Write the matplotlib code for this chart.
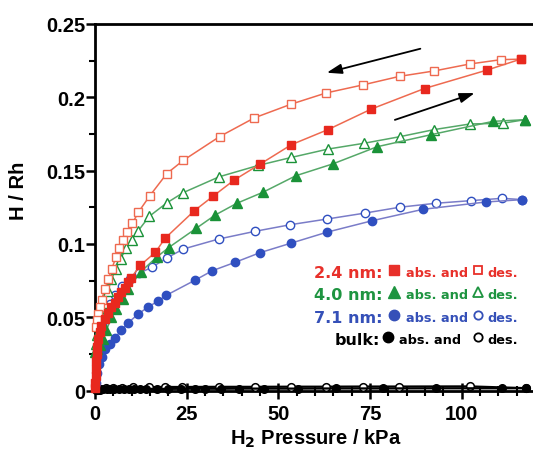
import matplotlib
matplotlib.use("Agg")
import matplotlib.pyplot as plt
from matplotlib.ticker import FixedLocator, FixedFormatter, MultipleLocator

# ---------------- data ----------------
p24_abs = [0.05, 0.1, 0.15, 0.25, 0.35, 0.45, 0.6, 0.8, 1.3, 1.7, 2.6, 3.6, 4.5, 5.4, 6.3, 7.2,
           8.1, 9.0, 9.9, 12.4, 16.5, 19.1, 27.1, 32.2, 38.0, 45.1, 53.6, 63.6, 75.4, 89.9, 107.0, 116.1]
h24_abs = [0.002, 0.005, 0.010, 0.015, 0.020, 0.025, 0.030, 0.035, 0.040, 0.044, 0.049, 0.053, 0.0568,
           0.060, 0.0636, 0.067, 0.070, 0.0738, 0.077, 0.0855, 0.0943, 0.1038, 0.1226, 0.1325, 0.1436,
           0.1545, 0.1677, 0.178, 0.192, 0.206, 0.2186, 0.226]
p24_des = [116.1, 110.8, 102.2, 92.6, 83.1, 73.0, 63.1, 53.6, 43.5, 34.0, 24.1, 19.6, 15.0, 11.8,
           10.2, 8.8, 7.7, 6.6, 5.7, 4.6, 3.6, 2.7, 1.8, 1.3, 0.9, 0.6, 0.4]
h24_des = [0.226, 0.2257, 0.2227, 0.218, 0.2143, 0.2084, 0.203, 0.1954, 0.186, 0.1732, 0.157, 0.148,
           0.133, 0.1215, 0.114, 0.108, 0.103, 0.097, 0.091, 0.083, 0.076, 0.069, 0.062, 0.057, 0.052,
           0.048, 0.043]

p40_abs = [0.1, 0.6, 1.3, 2.2, 3.1, 4.5, 5.8, 7.6, 9.0, 12.5, 16.8, 20.1, 27.6, 32.8, 38.7, 45.8,
           54.8, 64.8, 77.0, 91.7, 108.6, 117.2]
h40_abs = [0.026, 0.028, 0.031, 0.035, 0.041, 0.050, 0.0556, 0.0624, 0.069, 0.081, 0.0909, 0.0975,
           0.1106, 0.1197, 0.1277, 0.1352, 0.1465, 0.1545, 0.1663, 0.1745, 0.1836, 0.1847]
p40_des = [117.2, 111.3, 102.3, 92.6, 83.1, 73.3, 63.6, 53.6, 44.5, 33.9, 24.1, 19.6, 14.8, 11.8,
           10.0, 8.5, 7.0, 5.7, 4.5, 3.5, 2.5, 1.7, 1.1, 0.6, 0.3]
h40_des = [0.1847, 0.1823, 0.1818, 0.178, 0.1731, 0.1686, 0.1647, 0.159, 0.1535, 0.1458, 0.135,
           0.128, 0.1188, 0.109, 0.103, 0.097, 0.090, 0.083, 0.076, 0.068, 0.060, 0.052, 0.045,
           0.038, 0.032]

p71_abs = [0.2, 0.5, 1.0, 1.8, 2.8, 4.0, 5.4, 7.2, 9.0, 11.7, 14.5, 17.2, 19.5, 27.4, 32.0, 38.3,
           45.0, 53.6, 63.3, 75.6, 89.5, 106.7, 116.6]
h71_abs = [0.005, 0.012, 0.018, 0.023, 0.028, 0.032, 0.036, 0.041, 0.046, 0.052, 0.057, 0.061,
           0.065, 0.0754, 0.0817, 0.0875, 0.094, 0.1006, 0.108, 0.1158, 0.1236, 0.1286, 0.1302]
p71_des = [116.6, 111.1, 102.5, 92.9, 83.1, 73.6, 63.4, 53.3, 43.7, 33.7, 24.1, 19.6, 15.5, 12.0,
           9.5, 7.5, 5.5, 4.0, 2.8, 1.8, 1.0, 0.5]
h71_des = [0.1302, 0.1311, 0.1295, 0.1277, 0.125, 0.121, 0.117, 0.1131, 0.1086, 0.1033, 0.0965,
           0.0904, 0.084, 0.080, 0.076, 0.071, 0.065, 0.059, 0.052, 0.045, 0.037, 0.030]

pb_abs = [0.3, 0.8, 1.5, 2.3, 3.2, 4.2, 5.3, 6.5, 7.8, 9.2, 10.7, 12.3, 14.0, 16.8, 20.0, 23.5,
          27.3, 30.0, 34.5, 39.2, 46.0, 55.3, 65.8, 78.5, 92.9, 111.1, 117.5]
hb_abs = [0.0003, 0.0005, 0.0006, 0.0007, 0.0008, 0.0008, 0.0009, 0.0009, 0.001, 0.001, 0.001,
          0.001, 0.0011, 0.0011, 0.0011, 0.0012, 0.0012, 0.0012, 0.0012, 0.0013, 0.0013, 0.0013,
          0.0014, 0.0014, 0.0015, 0.0015, 0.0016]
pb_des = [117.5, 102.2, 82.9, 73.1, 63.1, 53.5, 43.7, 33.7, 23.7, 19.1, 14.6, 10.5, 7.5, 5.0, 3.0,
          1.5, 0.5]
hb_des = [0.0016, 0.0028, 0.0027, 0.0027, 0.0026, 0.0026, 0.0025, 0.0025, 0.0024, 0.0024, 0.0023,
          0.0022, 0.002, 0.0018, 0.0015, 0.001, 0.0005]

x_ticks = [0, 25, 50, 75, 100]
x_tick_labels = ["0", "25", "50", "75", "100"]
y_ticks = [0, 0.05, 0.1, 0.15, 0.2, 0.25]
y_tick_labels = ["0", "0.05", "0.1", "0.15", "0.2", "0.25"]

legend_rows = [
    ("2.4 nm:", "s", "#e8302a"),
    ("4.0 nm:", "^", "#1e9440"),
    ("7.1 nm:", "o", "#3550b8"),
    ("bulk:", "o", "#000000"),
]

# ---------------- figure ----------------
W, H = 533, 452
fig = plt.figure(figsize=(W / 100, H / 100), dpi=100)
fig.patch.set_facecolor("white")
ax = fig.add_axes([95 / W, 60.5 / H, (W - 95) / W, (391.5 - 25) / H])

RED, RED_L = "#e8281e", "#ee6a50"
GRN, GRN_L = "#1a9238", "#55a868"
BLU, BLU_L = "#2f4fc0", "#7a7cc8"

# bulk
ax.plot(pb_des, hb_des, "-", color="black", lw=1.6, marker="o", ms=5.5, mfc="white",
        mec="black", mew=1.1, clip_on=False, zorder=3)
ax.plot(pb_abs, hb_abs, "-", color="black", lw=1.6, marker="o", ms=5.5, mfc="black",
        mec="black", clip_on=False, zorder=3)
# 7.1 nm
ax.plot(p71_des, h71_des, "-", color=BLU_L, lw=1.1, marker="o", ms=6, mfc="white",
        mec=BLU, mew=1.0, clip_on=False, zorder=4)
ax.plot(p71_abs, h71_abs, "-", color=BLU_L, lw=1.1, marker="o", ms=6, mfc=BLU,
        mec=BLU, clip_on=False, zorder=4)
# 4.0 nm
ax.plot(p40_des, h40_des, "-", color=GRN_L, lw=1.1, marker="^", ms=7, mfc="white",
        mec=GRN, mew=1.0, clip_on=False, zorder=5)
ax.plot(p40_abs, h40_abs, "-", color=GRN_L, lw=1.1, marker="^", ms=7, mfc=GRN,
        mec=GRN, clip_on=False, zorder=5)
# 2.4 nm
ax.plot(p24_des, h24_des, "-", color=RED_L, lw=1.1, marker="s", ms=6, mfc="white",
        mec=RED_L, mew=1.0, clip_on=False, zorder=6)
ax.plot(p24_abs, h24_abs, "-", color=RED_L, lw=1.1, marker="s", ms=6, mfc=RED,
        mec=RED, clip_on=False, zorder=6)

# arrows
ax.annotate("", xy=(62.5, 0.2163), xytext=(89.5, 0.2336),
            arrowprops=dict(arrowstyle="-|>,head_length=0.9,head_width=0.3", color="black", lw=1.3))
ax.annotate("", xy=(104.3, 0.2035), xytext=(81.1, 0.184),
            arrowprops=dict(arrowstyle="-|>,head_length=0.9,head_width=0.3", color="black", lw=1.3))

ax.set_xlim(0, 119.5)
ax.set_ylim(0, 0.25)

for s in ["left", "bottom", "top"]:
    ax.spines[s].set_linewidth(2.0)
ax.spines["right"].set_visible(False)

ax.xaxis.set_major_locator(FixedLocator(x_ticks))
ax.xaxis.set_major_formatter(FixedFormatter(x_tick_labels))
ax.xaxis.set_minor_locator(MultipleLocator(5))
ax.yaxis.set_major_locator(FixedLocator(y_ticks))
ax.yaxis.set_major_formatter(FixedFormatter(y_tick_labels))
ax.yaxis.set_minor_locator(MultipleLocator(0.025))

ax.tick_params(axis="x", which="major", direction="inout", length=12, width=1.8, pad=4)
ax.tick_params(axis="x", which="minor", direction="inout", length=7.5, width=1.5)
ax.tick_params(axis="y", which="major", direction="out", length=6.5, width=1.8, pad=0.5)
ax.tick_params(axis="y", which="minor", direction="out", length=4, width=1.5)

tick_font = dict(family="Liberation Sans", weight="bold", size=14.5)
for lab in ax.get_xticklabels() + ax.get_yticklabels():
    lab.set_fontproperties(matplotlib.font_manager.FontProperties(**tick_font))

ax.set_xlabel(r"H$_\mathbf{2}$ Pressure / kPa", fontfamily="Liberation Sans", fontweight="bold",
              fontsize=14.5)
ax.xaxis.set_label_coords(0.505, -0.1)
ax.set_ylabel("H / Rh", fontfamily="Liberation Sans", fontweight="bold", fontsize=14.5)
ax.yaxis.set_label_coords(-0.152, 0.547)

# legend block
def fx(x):
    return x / W

def fy(y):
    return 1 - y / H

row_y = [272, 294, 317, 339]
for (label, mk, col), y in zip(legend_rows, row_y):
    bulk = label == "bulk:"
    lx = 380 if bulk else 383
    mx = 388 if bulk else 394
    ax_ = 399 if bulk else 406
    msz = {"s": 7, "^": 8.5, "o": 7.5}[mk]
    fig.text(fx(lx), fy(y), label, ha="right", va="center_baseline", color=col,
             fontfamily="DejaVu Sans", fontweight="bold", fontsize=11.5)
    fig.text(fx(ax_), fy(y), "abs. and", ha="left", va="center_baseline", color=col,
             fontfamily="DejaVu Sans", fontweight="bold", fontsize=9.3)
    fig.text(fx(487), fy(y), "des.", ha="left", va="center_baseline", color=col,
             fontfamily="DejaVu Sans", fontweight="bold", fontsize=9.3)
    ax.plot([fx(mx)], [fy(y - 1)], marker=mk, ms=msz, color=col, mec=col,
            transform=fig.transFigure, clip_on=False, ls="none")
    ax.plot([fx(478)], [fy(y - 1)], marker=mk, ms=msz - 1.5, mfc="white", mec=col, mew=1.3,
            transform=fig.transFigure, clip_on=False, ls="none")

fig.savefig("out.png", dpi=100, facecolor="white")
